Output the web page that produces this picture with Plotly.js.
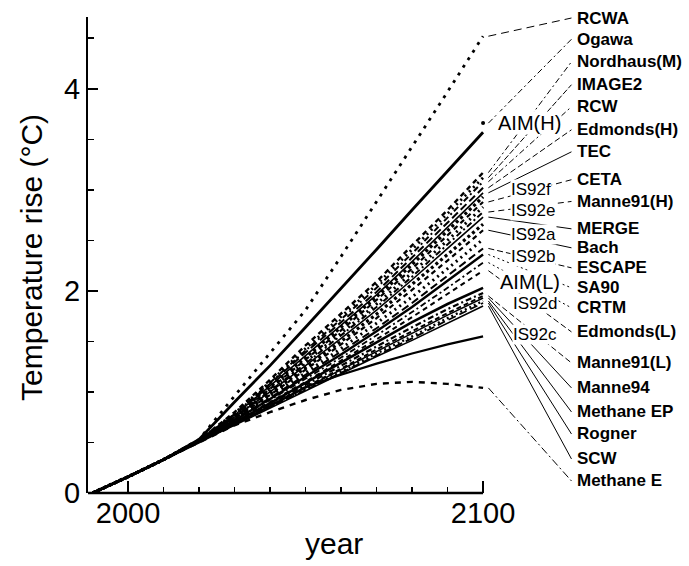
<!DOCTYPE html>
<html><head><meta charset="utf-8">
<script src="https://cdn.plot.ly/plotly-3.0.1.min.js"></script>
<style>html,body{margin:0;padding:0;background:#fff}#chart{width:689px;height:566px}</style>
</head><body><div id="chart"></div>
<script>
// ---------- data ----------
const years = [1990, 2000, 2010, 2020, 2030, 2040, 2050, 2060, 2070, 2080, 2090, 2100];

const RCWA       = [0, 0.16, 0.33, 0.53, 0.96, 1.38, 1.81, 2.34, 2.88, 3.42, 3.97, 4.52];
const Ogawa      = [null, null, null, null, null, null, null, null, null, null, null, 3.66];
const AIM_H      = [0, 0.16, 0.33, 0.53, 0.90, 1.26, 1.64, 2.02, 2.41, 2.80, 3.19, 3.57];
const NordhausM  = [0, 0.16, 0.33, 0.52, 0.80, 1.12, 1.46, 1.78, 2.09, 2.45, 2.80, 3.17];
const IMAGE2     = [0, 0.16, 0.33, 0.52, 0.79, 1.10, 1.43, 1.75, 2.06, 2.41, 2.76, 3.12];
const RCW        = [0, 0.16, 0.33, 0.52, 0.78, 1.09, 1.41, 1.72, 2.03, 2.37, 2.72, 3.08];
const EdmondsH   = [0, 0.16, 0.33, 0.52, 0.78, 1.08, 1.39, 1.69, 1.99, 2.33, 2.67, 3.02];
const TEC        = [0, 0.16, 0.33, 0.52, 0.77, 1.06, 1.36, 1.66, 1.96, 2.29, 2.63, 2.97];
const IS92f      = [0, 0.16, 0.33, 0.52, 0.77, 1.05, 1.34, 1.64, 1.94, 2.26, 2.59, 2.93];
const CETA       = [0, 0.16, 0.33, 0.52, 0.76, 1.03, 1.32, 1.61, 1.91, 2.22, 2.55, 2.88];
const IS92e      = [0, 0.16, 0.33, 0.52, 0.76, 1.02, 1.30, 1.58, 1.87, 2.18, 2.50, 2.83];
const Manne91H   = [0, 0.16, 0.33, 0.52, 0.75, 1.01, 1.28, 1.56, 1.84, 2.14, 2.46, 2.78];
const MERGE      = [0, 0.16, 0.33, 0.52, 0.75, 1.00, 1.26, 1.53, 1.81, 2.11, 2.42, 2.73];
const IS92a      = [0, 0.16, 0.33, 0.52, 0.74, 0.98, 1.24, 1.50, 1.77, 2.06, 2.36, 2.66];
const Bach       = [0, 0.16, 0.33, 0.52, 0.74, 0.97, 1.22, 1.47, 1.73, 2.01, 2.30, 2.60];
const IS92b      = [0, 0.16, 0.33, 0.52, 0.73, 0.96, 1.19, 1.43, 1.68, 1.94, 2.22, 2.51];
const ESCAPE     = [0, 0.16, 0.33, 0.52, 0.73, 0.94, 1.17, 1.40, 1.63, 1.88, 2.15, 2.42];
const SA90       = [0, 0.16, 0.33, 0.52, 0.72, 0.93, 1.15, 1.37, 1.60, 1.84, 2.10, 2.36];
const CRTM       = [0, 0.16, 0.33, 0.52, 0.72, 0.92, 1.13, 1.34, 1.56, 1.79, 2.03, 2.28];
const EdmondsL   = [0, 0.16, 0.33, 0.52, 0.71, 0.90, 1.10, 1.31, 1.52, 1.74, 1.97, 2.20];
const AIM_L      = [0, 0.16, 0.33, 0.51, 0.70, 0.89, 1.09, 1.29, 1.49, 1.69, 1.87, 2.03];
const IS92d      = [0, 0.16, 0.33, 0.51, 0.69, 0.88, 1.07, 1.26, 1.45, 1.64, 1.82, 1.98];
const Manne91L   = [0, 0.16, 0.33, 0.51, 0.69, 0.87, 1.05, 1.23, 1.42, 1.60, 1.78, 1.95];
const Manne94    = [0, 0.16, 0.33, 0.51, 0.68, 0.86, 1.04, 1.22, 1.40, 1.58, 1.76, 1.93];
const MethaneEP  = [0, 0.16, 0.33, 0.51, 0.68, 0.85, 1.03, 1.20, 1.38, 1.55, 1.73, 1.90];
const Rogner     = [0, 0.16, 0.33, 0.51, 0.68, 0.85, 1.02, 1.19, 1.36, 1.53, 1.71, 1.88];
const SCW        = [0, 0.16, 0.33, 0.51, 0.67, 0.84, 1.01, 1.18, 1.35, 1.51, 1.68, 1.85];
const IS92c      = [0, 0.16, 0.33, 0.50, 0.68, 0.86, 1.05, 1.17, 1.28, 1.38, 1.47, 1.55];
const MethaneE   = [0, 0.16, 0.33, 0.50, 0.67, 0.80, 0.92, 1.02, 1.08, 1.10, 1.08, 1.04];

// label text for each series (in drawing order)
const names = ["RCWA","Ogawa","AIM(H)","Nordhaus(M)","IMAGE2","RCW","Edmonds(H)","TEC","IS92f","CETA",
  "IS92e","Manne91(H)","MERGE","IS92a","Bach","IS92b","ESCAPE","SA90","CRTM","Edmonds(L)",
  "AIM(L)","IS92d","Manne91(L)","Manne94","Methane EP","Rogner","SCW","IS92c","Methane E"];
const values = [RCWA, Ogawa, AIM_H, NordhausM, IMAGE2, RCW, EdmondsH, TEC, IS92f, CETA,
  IS92e, Manne91H, MERGE, IS92a, Bach, IS92b, ESCAPE, SA90, CRTM, EdmondsL,
  AIM_L, IS92d, Manne91L, Manne94, MethaneEP, Rogner, SCW, IS92c, MethaneE];

// ---------- styling / layout (not data) ----------
const lineStyle = {
  "RCWA":["3px,6px",2.8], "AIM(H)":["solid",2.8], "Nordhaus(M)":["5px,4px",2.4], "IMAGE2":["2px,4px",2.8],
  "RCW":["6px,3px,2px,3px",2], "Edmonds(H)":["8px,4px",2], "TEC":["solid",1.6], "IS92f":["3px,3px",3.2],
  "CETA":["5px,4px",2.2], "IS92e":["2px,4px",3], "Manne91(H)":["6px,3px,2px,3px",2], "MERGE":["solid",1.6],
  "IS92a":["3px,3px",3.2], "Bach":["5px,4px",2.2], "IS92b":["2px,4px",3], "ESCAPE":["8px,4px",2],
  "SA90":["solid",2.4], "CRTM":["6px,3px,2px,3px",1.8], "Edmonds(L)":["5px,4px",2], "AIM(L)":["solid",2.6],
  "IS92d":["6px,3px,2px,3px",2.2], "Manne91(L)":["5px,3px",2], "Manne94":["solid",1.6], "Methane EP":["2px,3px",2.4],
  "Rogner":["8px,4px",1.8], "SCW":["solid",1.6], "IS92c":["solid",2.2], "Methane E":["6px,6px",2.4]
};
// right-column label slots (y in axis units) and leader dash
const rightLabels = {
  "RCWA":[4.700,"8px,5px"], "Ogawa":[4.490,"6px,3px,2px,3px"], "Nordhaus(M)":[4.267,"6px,3px,2px,3px"],
  "IMAGE2":[4.040,"6px,2px"], "RCW":[3.822,"6px,3px,2px,3px"], "Edmonds(H)":[3.594,"6px,3px"],
  "TEC":[3.376,"solid"], "CETA":[3.100,"6px,4px"], "Manne91(H)":[2.885,"6px,4px"], "MERGE":[2.614,"solid"],
  "Bach":[2.426,"solid"], "ESCAPE":[2.228,"6px,3px"], "SA90":[2.030,"2px,3px"], "CRTM":[1.832,"2px,3px"],
  "Edmonds(L)":[1.594,"6px,3px"], "Manne91(L)":[1.287,"6px,3px"], "Manne94":[1.040,"solid"],
  "Methane EP":[0.802,"solid"], "Rogner":[0.584,"solid"], "SCW":[0.337,"solid"], "Methane E":[0.119,"8px,3px,2px,3px"]
};
const innerLabels = {
  "AIM(H)":[2104.0,3.663,20], "IS92f":[2107.6,3.000,17], "IS92e":[2107.6,2.800,17], "IS92a":[2107.6,2.560,17],
  "IS92b":[2107.6,2.340,17], "AIM(L)":[2104.6,2.089,20], "IS92d":[2108.2,1.880,17], "IS92c":[2108.2,1.564,17]
};
const FONT = "Liberation Sans, Arial, Helvetica, sans-serif";
const labelX = 2125.9, leadStartX = 2101.5, leadEndX = 2124.9;

const traces = [];
names.forEach((n, i) => {
  const v = values[i];
  if (n === "Ogawa") {
    traces.push({x: years, y: v, mode: "markers", marker: {color: "#000", size: 4},
      hoverinfo: "skip", showlegend: false});
  } else {
    const st = lineStyle[n];
    traces.push({x: years, y: v, mode: "lines", line: {color: "#000", width: st[1], dash: st[0]},
      hoverinfo: "skip", showlegend: false});
  }
});
// leader lines from each curve end to its right-hand label
const annotations = [];
names.forEach((n, i) => {
  const v = values[i];
  const end = v[v.length - 1];
  if (rightLabels[n]) {
    const [ly, dash] = rightLabels[n];
    traces.push({x: [leadStartX, leadEndX], y: [end, ly], mode: "lines",
      line: {color: "#000", width: 1, dash: dash}, hoverinfo: "skip", showlegend: false});
    annotations.push({x: labelX, y: ly, xref: "x", yref: "y", text: n, showarrow: false,
      xanchor: "left", yanchor: "middle", font: {family: FONT, size: 17, color: "#000", weight: "bold"}});
  }
});
Object.keys(innerLabels).forEach(n => {
  const [lx, ly, sz] = innerLabels[n];
  annotations.push({x: lx, y: ly, xref: "x", yref: "y", text: n, showarrow: false,
    xanchor: "left", yanchor: "middle", bgcolor: "#fff", borderpad: 0,
    font: {family: FONT, size: sz, color: "#000"}});
});
annotations.push({x: 2058, y: -0.107, xref: "x", yref: "paper", text: "year", showarrow: false,
  xanchor: "center", yanchor: "middle", font: {family: FONT, size: 30, color: "#000"}});
annotations.push({x: -0.093, y: 0.494, xref: "paper", yref: "paper", text: "Temperature rise (°C)",
  textangle: -90, showarrow: false, xanchor: "center", yanchor: "middle",
  font: {family: FONT, size: 30, color: "#000"}});

const layout = {
  width: 689, height: 566,
  margin: {l: 88, r: 0, t: 17, b: 73},
  paper_bgcolor: "#fff", plot_bgcolor: "#fff",
  showlegend: false,
  xaxis: {
    range: [1988.73, 2158.0], showline: false, zeroline: false, showgrid: false,
    tickmode: "array", tickvals: [2000, 2100], ticktext: ["2000", "2100"],
    ticks: "inside", ticklen: 12, tickwidth: 2, tickcolor: "#000",
    tickfont: {family: FONT, size: 29, color: "#000"},
    minor: {tickmode: "array", tickvals: [2010, 2020, 2030, 2040, 2050, 2060, 2070, 2080, 2090],
      ticks: "inside", ticklen: 6, tickwidth: 1.5, tickcolor: "#000", showgrid: false}
  },
  yaxis: {
    range: [0, 4.71], showline: true, linewidth: 2, linecolor: "#000", zeroline: false, showgrid: false,
    tickmode: "array", tickvals: [0, 2, 4], ticktext: ["0", "2", "4"],
    ticks: "inside", ticklen: 10, tickwidth: 2, tickcolor: "#000",
    tickfont: {family: FONT, size: 29, color: "#000"},
    minor: {tick0: 0, dtick: 0.5, ticks: "inside", ticklen: 6, tickwidth: 1.5, tickcolor: "#000", showgrid: false}
  },
  shapes: [{type: "line", xref: "x", yref: "paper", x0: 1988.73, x1: 2100, y0: 0, y1: 0,
    line: {color: "#000", width: 2.5}, layer: "above"}],
  annotations: annotations
};
Plotly.newPlot("chart", traces, layout, {staticPlot: true});
</script>
</body></html>
